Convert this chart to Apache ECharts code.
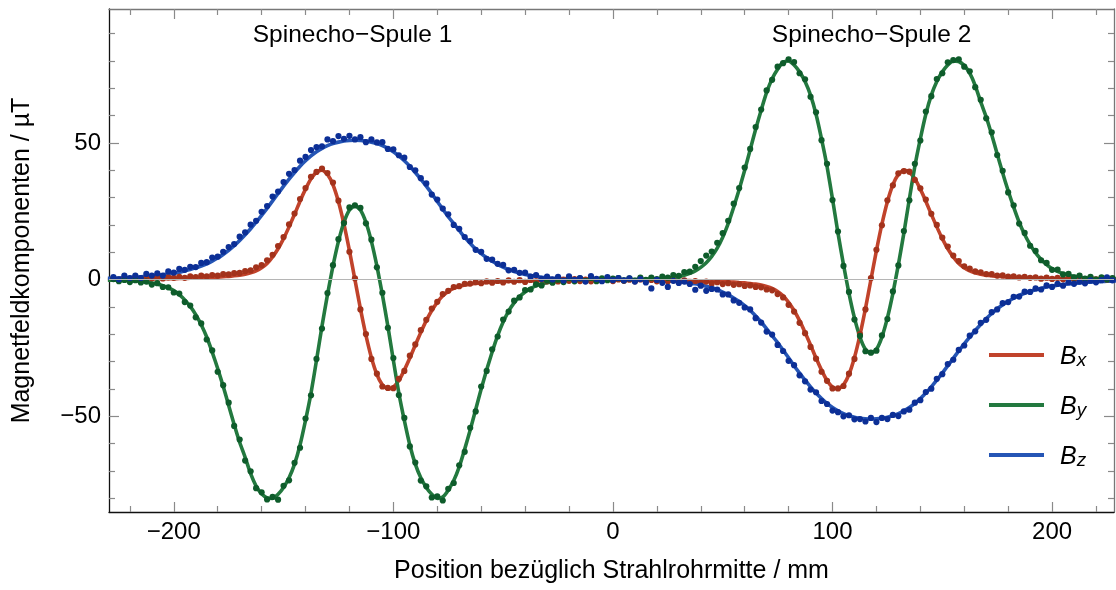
<!DOCTYPE html>
<html><head><meta charset="utf-8">
<script src="https://cdn.jsdelivr.net/npm/echarts@6.0.0/dist/echarts.min.js"></script>
<style>html,body{margin:0;padding:0;background:#fff}#c{width:1116px;height:590px}</style>
</head><body><div id="c"></div>
<script>
// measurement positions (mm)
const positions = [
-227.5,-225,-222.5,-220,-217.5,-215,-212.5,-210,-207.5,-205,
-202.5,-200,-197.5,-195,-192.5,-190,-187.5,-185,-182.5,-180,
-177.5,-175,-172.5,-170,-167.5,-165,-162.5,-160,-157.5,-155,
-152.5,-150,-147.5,-145,-142.5,-140,-137.5,-135,-132.5,-130,
-127.5,-125,-122.5,-120,-117.5,-115,-112.5,-110,-107.5,-105,
-102.5,-100,-97.5,-95,-92.5,-90,-87.5,-85,-82.5,-80,
-77.5,-75,-72.5,-70,-67.5,-65,-62.5,-60,-57.5,-55,
-52.5,-50,-47.5,-45,-42.5,-40,-37.5,-35,-32.5,-30,
-27.5,-25,-22.5,-20,-17.5,-15,-12.5,-10,-7.5,-5,
-2.5,0,
2.5,5,7.5,10,12.5,15,17.5,20,22.5,25,
27.5,30,32.5,35,37.5,40,42.5,45,47.5,50,
52.5,55,57.5,60,62.5,65,67.5,70,72.5,75,
77.5,80,82.5,85,87.5,90,92.5,95,97.5,100,
102.5,105,107.5,110,112.5,115,117.5,120,122.5,125,
127.5,130,132.5,135,137.5,140,142.5,145,147.5,150,
152.5,155,157.5,160,162.5,165,167.5,170,172.5,175,
177.5,180,182.5,185,187.5,190,192.5,195,197.5,200,
202.5,205,207.5,210,212.5,215,217.5,220,222.5,225,
227.5];

// measured values (µT)
const bxDots = [
0.45,-0.04,0.58,0.29,0.7,0.12,0.65,0.47,0.9,0.42,
0.85,0.67,1.0,0.65,1.2,0.97,1.45,1.22,1.7,1.5,
2.05,1.9,2.4,2.45,3.1,3.4,4.5,5.3,7.1,9.1,
12.3,15.6,20.2,24.2,29.5,33.5,37.6,39.4,40.6,39.0,
35.5,28.9,20.9,10.2,0.5,-10.9,-19.9,-29.0,-34.4,-39.1,
-39.6,-39.7,-36.3,-33.4,-27.8,-23.7,-18.5,-14.7,-10.6,-8.1,
-5.3,-4.1,-2.7,-2.4,-1.5,-1.45,-0.9,-1.3,-0.65,-1.1,
-0.5,-1.02,-0.25,-0.77,-0.2,-0.85,-0.1,-0.67,0.05,-0.62,
-0.1,-0.67,0.05,-0.43,0.18,-0.52,-0.02,-0.62,0.08,-0.42,
0.18,-0.52,
0.08,-0.42,-0.02,-0.62,0.08,-0.52,-0.12,-0.63,-0.05,-0.57,
-0.2,-0.82,-0.25,-0.97,-0.5,-1.15,-0.7,-1.37,-0.95,-1.62,
-1.3,-1.9,-1.65,-2.3,-2.1,-2.65,-2.8,-3.6,-3.9,-5.3,
-6.5,-9.2,-11.7,-15.8,-19.6,-24.6,-28.9,-33.7,-37.0,-39.8,
-39.8,-38.9,-34.4,-29.0,-19.9,-10.9,0.6,10.9,19.9,29.0,
34.5,38.9,39.7,39.5,36.5,33.4,29.3,24.1,20.0,15.4,
12.1,8.8,6.8,4.9,4.0,3.0,2.7,2.05,2.0,1.5,
1.55,1.1,1.2,0.82,1.05,0.67,0.8,0.35,0.7,0.27,
0.65,0.12,0.6,0.17,0.55,0.02,0.5,0.09,0.48,0.06,
0.35];
const byDots = [
0.2,-0.55,-0.1,-0.9,-0.2,-1.05,-0.7,-1.8,-1.3,-2.7,
-2.8,-4.7,-5.1,-8.2,-9.5,-13.8,-16.0,-21.9,-25.9,-33.7,
-38.6,-45.0,-53.5,-58.5,-66.2,-70.1,-76.3,-77.8,-80.4,-79.5,
-80.5,-75.4,-73.4,-67.0,-61.5,-50.8,-42.3,-29.0,-17.9,-4.9,
5.3,14.8,20.7,26.4,27.2,26.3,20.6,14.6,4.5,-4.8,
-17.6,-28.7,-42.2,-50.6,-61.0,-66.9,-73.5,-75.6,-79.7,-79.3,
-80.8,-76.5,-74.4,-67.9,-63.0,-54.2,-48.2,-39.1,-33.4,-25.5,
-20.8,-14.6,-11.7,-7.7,-6.5,-3.8,-3.6,-1.7,-2.1,-0.4,
-1.1,0.0,-0.9,0.5,-0.6,0.45,-0.4,0.63,-0.55,0.47,
-0.22,0.4,
0.52,-0.27,0.45,-0.33,0.7,-0.05,0.7,0.2,1.1,0.7,
1.7,1.4,2.8,2.9,4.7,6.8,8.8,10.3,13.5,17.0,
21.5,27.8,33.5,41.0,47.8,55.8,62.2,69.2,73.1,77.9,
79.2,80.6,79.6,75.5,73.3,66.9,61.2,51.0,42.4,29.1,
17.6,5.0,-4.5,-14.6,-20.6,-26.2,-26.7,-26.0,-20.4,-14.4,
-4.3,5.2,17.8,29.0,42.4,50.9,61.5,67.1,73.4,75.5,
79.5,80.3,80.6,77.9,76.2,70.4,65.8,59.0,53.9,45.6,
39.8,31.9,27.2,20.5,17.1,12.4,10.5,7.1,6.1,3.6,
3.7,1.9,2.1,0.8,1.5,0.35,1.0,0.0,0.8,0.05,
0.6];
const bzDots = [
0.9,0.1,1.5,0.6,1.5,0.6,2.1,1.5,2.3,1.5,
3.0,2.6,3.9,3.6,4.7,4.6,6.1,6.4,8.1,8.4,
10.2,11.9,13.0,15.7,17.3,20.1,21.5,24.8,26.9,30.4,
32.2,35.7,38.7,40.1,43.5,44.9,47.4,48.5,48.8,51.3,
50.7,52.5,51.5,52.6,51.3,52.1,50.3,51.3,50.2,50.3,
47.8,47.7,45.5,44.6,41.2,40.0,37.1,35.2,31.1,29.3,
26.0,23.9,20.0,18.6,15.6,14.1,10.9,10.2,7.6,7.3,
5.8,5.4,3.4,3.6,2.5,2.6,1.1,1.7,0.3,1.1,
0.05,1.05,-0.35,1.2,-0.1,0.55,-0.7,1.3,0.25,-0.55,
0.9,-0.2,
0.6,-0.3,0.45,-0.7,0.2,-1.05,-3.2,-0.1,-1.15,-2.65,
-0.45,-1.2,-0.7,-1.6,-3.7,-2.2,-4.1,-3.4,-3.6,-5.4,
-5.4,-7.6,-8.5,-10.2,-10.9,-14.1,-15.7,-19.0,-20.1,-23.9,
-26.1,-29.7,-31.3,-35.0,-37.2,-40.2,-41.2,-44.4,-45.5,-47.9,
-48.5,-50.0,-49.6,-51.1,-51.0,-51.9,-50.6,-52.1,-50.6,-51.0,
-49.5,-49.9,-48.2,-47.6,-45.0,-44.1,-41.1,-39.9,-36.3,-34.6,
-30.9,-29.3,-25.7,-24.1,-20.5,-18.9,-15.8,-14.7,-11.9,-10.9,
-8.6,-8.2,-6.3,-6.2,-4.4,-4.5,-3.2,-3.6,-2.1,-2.65,
-1.55,-2.2,-0.95,-1.55,-0.7,-1.35,-0.3,-1.0,-0.2,0.8,
-0.25];

// fit curves: positions extended to the frame edges
const fitPositions = [-230].concat(positions, [230]);
const bxFit = [0.14,
0.15,0.16,0.18,0.19,0.2,0.22,0.25,0.27,0.3,0.32,
0.35,0.37,0.4,0.45,0.5,0.57,0.65,0.72,0.8,0.9,
1.05,1.2,1.4,1.65,2.0,2.5,3.2,4.3,5.9,8.3,
11.3,15.0,19.3,23.9,28.7,33.1,36.9,39.3,40.0,38.5,
34.7,28.5,20.3,10.6,0,-10.6,-20.3,-28.5,-34.7,-38.5,
-40.0,-39.3,-36.9,-33.1,-28.7,-23.9,-19.3,-15.0,-11.3,-8.3,
-5.9,-4.3,-3.2,-2.5,-2.0,-1.65,-1.4,-1.2,-1.05,-0.9,
-0.8,-0.72,-0.65,-0.57,-0.5,-0.45,-0.4,-0.37,-0.35,-0.32,
-0.3,-0.27,-0.25,-0.23,-0.22,-0.22,-0.22,-0.22,-0.22,-0.22,
-0.22,-0.22,
-0.22,-0.22,-0.22,-0.22,-0.22,-0.22,-0.22,-0.23,-0.25,-0.27,
-0.3,-0.32,-0.35,-0.37,-0.4,-0.45,-0.5,-0.57,-0.65,-0.72,
-0.8,-0.9,-1.05,-1.2,-1.4,-1.65,-2.0,-2.5,-3.2,-4.3,
-5.9,-8.3,-11.3,-15.0,-19.3,-23.9,-28.7,-33.1,-36.9,-39.3,
-40.0,-38.5,-34.7,-28.5,-20.3,-10.6,0,10.6,20.3,28.5,
34.7,38.5,40.0,39.3,36.9,33.1,28.7,23.9,19.3,15.0,
11.3,8.3,5.9,4.3,3.2,2.5,2.0,1.65,1.4,1.2,
1.05,0.9,0.8,0.72,0.65,0.57,0.5,0.45,0.4,0.37,
0.35,0.32,0.3,0.27,0.25,0.22,0.2,0.19,0.18,0.16,
0.15,
0.14];
const byFit = [-0.18,
-0.2,-0.25,-0.3,-0.4,-0.5,-0.65,-0.9,-1.2,-1.6,-2.2,
-3.0,-4.0,-5.5,-7.4,-9.8,-12.8,-16.5,-21.0,-26.5,-32.5,
-39.0,-46.0,-53.0,-59.5,-65.0,-71.0,-75.5,-78.3,-79.8,-80.0,
-78.5,-76.0,-72.5,-67.5,-60.5,-51.5,-41.5,-29.5,-17.0,-5.5,
5.0,14.0,21.0,25.5,27.0,25.5,21.0,14.0,5.0,-5.5,
-17.0,-29.5,-41.5,-51.5,-60.5,-67.5,-72.5,-76.0,-78.5,-80.0,
-79.5,-77.0,-73.5,-68.5,-62.0,-55.0,-47.5,-40.0,-33.0,-26.5,
-20.5,-15.5,-11.5,-8.5,-6.2,-4.5,-3.2,-2.3,-1.6,-1.1,
-0.8,-0.6,-0.4,-0.3,-0.2,-0.15,-0.1,-0.07,-0.05,-0.03,
-0.02,0,
0.02,0.03,0.05,0.07,0.1,0.15,0.2,0.3,0.4,0.6,
0.8,1.1,1.6,2.3,3.2,4.5,6.2,8.5,11.5,15.5,
20.5,26.5,33.0,40.0,47.5,55.0,62.0,68.5,73.5,77.0,
79.5,80.0,78.5,76.0,72.5,67.5,60.5,51.5,41.5,29.5,
17.0,5.5,-5.0,-14.0,-21.0,-25.5,-27.0,-25.5,-21.0,-14.0,
-5.0,5.5,17.0,29.5,41.5,51.5,60.5,67.5,72.5,76.0,
78.5,80.0,79.8,78.3,75.5,71.0,65.0,59.5,53.0,46.0,
39.0,32.5,26.5,21.0,16.5,12.8,9.8,7.4,5.5,4.0,
3.0,2.2,1.6,1.2,0.9,0.65,0.5,0.4,0.3,0.25,
0.2,
0.18];
const bzFit = [0.5,
0.55,0.6,0.7,0.8,0.9,1.05,1.2,1.35,1.55,1.8,
2.05,2.35,2.7,3.2,3.7,4.3,5.0,5.8,6.8,7.9,
9.2,10.7,12.4,14.3,16.4,18.6,21.0,23.5,26.1,28.8,
31.5,34.2,36.8,39.2,41.5,43.5,45.3,46.8,48.0,49.0,
49.8,50.3,50.7,50.9,51.0,50.9,50.7,50.3,49.8,49.0,
48.0,46.8,45.3,43.5,41.5,39.2,36.8,34.2,31.5,28.6,
25.8,23.0,20.5,18.0,15.5,13.3,11.2,9.5,8.0,6.7,
5.6,4.6,3.7,3.0,2.4,1.9,1.5,1.2,0.9,0.7,
0.55,0.45,0.35,0.28,0.2,0.15,0.1,0.07,0.05,0.03,
0.02,0,
-0.02,-0.03,-0.05,-0.07,-0.1,-0.15,-0.2,-0.28,-0.35,-0.45,
-0.55,-0.7,-0.9,-1.2,-1.5,-1.9,-2.4,-3.0,-3.7,-4.6,
-5.6,-6.7,-8.0,-9.5,-11.2,-13.3,-15.5,-18.0,-20.5,-23.0,
-25.8,-28.6,-31.5,-34.2,-36.8,-39.2,-41.5,-43.5,-45.3,-46.8,
-48.0,-49.0,-49.8,-50.3,-50.7,-50.9,-51.0,-50.9,-50.7,-50.3,
-49.8,-49.0,-48.0,-46.8,-45.3,-43.5,-41.5,-39.2,-36.8,-34.2,
-31.5,-28.8,-26.1,-23.5,-21.0,-18.6,-16.4,-14.3,-12.4,-10.7,
-9.2,-7.9,-6.8,-5.8,-5.0,-4.3,-3.7,-3.2,-2.7,-2.35,
-2.05,-1.8,-1.55,-1.35,-1.2,-1.05,-0.9,-0.8,-0.7,-0.6,
-0.55,
-0.5];

// axis ticks
const xMajorTicks = [-200, -100, 0, 100, 200];
const xMinorTicks = [-220,-180,-160,-140,-120,-80,-60,-40,-20,20,40,60,80,120,140,160,180,220];
const yMajorTicks = [-50, 0, 50];
const yMinorTicks = [-80,-70,-60,-40,-30,-20,-10,10,20,30,40,60,70,80,90];

// text annotations [label, x, y]
const annotations = [
  ['Spinecho\u2212Spule 1', -118.6, 89.5],
  ['Spinecho\u2212Spule 2', 117.8, 89.5]
];

const FONT = "'Liberation Sans', Arial, Helvetica, sans-serif";
const C = {
  bxLine: '#c1432b', byLine: '#23793f', bzLine: '#2555b5',
  bxDot: '#a3321b', byDot: '#0e5c2b', bzDot: '#0c2f96'
};
const fmt = v => (v < 0 ? '\u2212' + Math.abs(v) : String(v));
const XMIN = -229.5, XMAX = 228.2, YMIN = -85, YMAX = 99;
const tickColor = '#8a8a8a';

function xAx(pos, ticks, len, withLabel, lineColor) {
  return {
    type: 'value', position: pos, min: XMIN, max: XMAX,
    axisLine: { show: lineColor !== null, onZero: false, lineStyle: { color: lineColor || '#000', width: 1.3 } },
    axisTick: { show: true, inside: true, length: len, customValues: ticks, lineStyle: { color: tickColor, width: 1.2 } },
    axisLabel: withLabel ? { show: true, customValues: ticks, formatter: fmt, fontSize: 24, color: '#000', fontFamily: FONT, margin: 8 } : { show: false },
    splitLine: { show: false }
  };
}
function yAx(pos, ticks, len, withLabel, lineColor) {
  return {
    type: 'value', position: pos, min: YMIN, max: YMAX,
    axisLine: { show: lineColor !== null, onZero: false, lineStyle: { color: lineColor || '#000', width: 1.3 } },
    axisTick: { show: true, inside: true, length: len, customValues: ticks, lineStyle: { color: tickColor, width: 1.2 } },
    axisLabel: withLabel ? { show: true, customValues: ticks, formatter: fmt, fontSize: 24, color: '#000', fontFamily: FONT, margin: 8 } : { show: false },
    splitLine: { show: false }
  };
}

const xAxes = [
  xAx('bottom', xMajorTicks, 10, true, '#111'),
  xAx('bottom', xMinorTicks, 6, false, null),
  xAx('top', xMajorTicks, 10, false, '#777'),
  xAx('top', xMinorTicks, 6, false, null)
];
Object.assign(xAxes[0], { name: 'Position bez\u00fcglich Strahlrohrmitte / mm', nameLocation: 'middle', nameGap: 47,
  nameTextStyle: { fontSize: 25, color: '#000', fontFamily: FONT } });
const yAxes = [
  yAx('left', yMajorTicks, 10, true, '#111'),
  yAx('left', yMinorTicks, 6, false, null),
  yAx('right', yMajorTicks, 10, false, '#777'),
  yAx('right', yMinorTicks, 6, false, null)
];
Object.assign(yAxes[0], { name: 'Magnetfeldkomponenten / \u00b5T', nameLocation: 'middle', nameGap: 74, nameRotate: 90,
  nameTextStyle: { fontSize: 25, color: '#000', fontFamily: FONT } });

const pairs = (xs, ys) => xs.map((x, i) => [x, ys[i]]);

function fitSeries(name, ys, color) {
  return { name, type: 'line', data: pairs(fitPositions, ys), showSymbol: false, symbol: 'none', smooth: 0.2,
    lineStyle: { color, width: 3.6 }, itemStyle: { color }, z: 3, silent: true };
}
function dotSeries(name, ys, color) {
  return { name, type: 'scatter', data: pairs(positions, ys), symbolSize: 6.2,
    itemStyle: { color, opacity: 1 }, z: 4, silent: true };
}

const option = {
  animation: false,
  backgroundColor: '#fff',
  textStyle: { fontFamily: FONT },
  grid: { left: 109, right: 2, top: 9, bottom: 78, containLabel: false, outerBoundsMode: 'none' },
  xAxis: xAxes,
  yAxis: yAxes,
  legend: {
    data: ['Bx', 'By', 'Bz'], orient: 'vertical', left: 989, top: 345, padding: 0,
    itemWidth: 55, itemHeight: 4, itemGap: 25, icon: 'rect', selectedMode: false,
    formatter: n => '{b|B}{s|' + n.slice(1) + '}',
    textStyle: {
      rich: {
        b: { fontSize: 25, fontStyle: 'italic', fontFamily: FONT, color: '#000', lineHeight: 30, verticalAlign: 'bottom', padding: [0, 0, 0, 11] },
        s: { fontSize: 19, fontStyle: 'italic', fontFamily: FONT, color: '#000', lineHeight: 19, verticalAlign: 'bottom' }
      }
    }
  },
  series: [
    { name: 'zero', type: 'line', data: [], silent: true, z: 1,
      markLine: { silent: true, symbol: 'none', label: { show: false }, animation: false,
        lineStyle: { color: '#b5b5b5', width: 1.2, type: 'solid' }, data: [{ yAxis: 0 }] } },
    fitSeries('Bx', bxFit, C.bxLine),
    fitSeries('By', byFit, C.byLine),
    fitSeries('Bz', bzFit, C.bzLine),
    dotSeries('Bx data', bxDots, C.bxDot),
    dotSeries('By data', byDots, C.byDot),
    dotSeries('Bz data', bzDots, C.bzDot),
    { name: 'labels', type: 'scatter', symbolSize: 0, itemStyle: { color: '#000', opacity: 1 }, silent: true, z: 5,
      data: annotations.map(a => ({ name: a[0], value: [a[1], a[2]] })),
      label: { show: true, position: 'inside', formatter: '{b}', fontSize: 24.5, color: '#000', opacity: 1, fontFamily: FONT } }
  ]
};
const chart = echarts.init(document.getElementById('c'), null, { renderer: 'canvas' });
chart.setOption(option);
</script></body></html>
